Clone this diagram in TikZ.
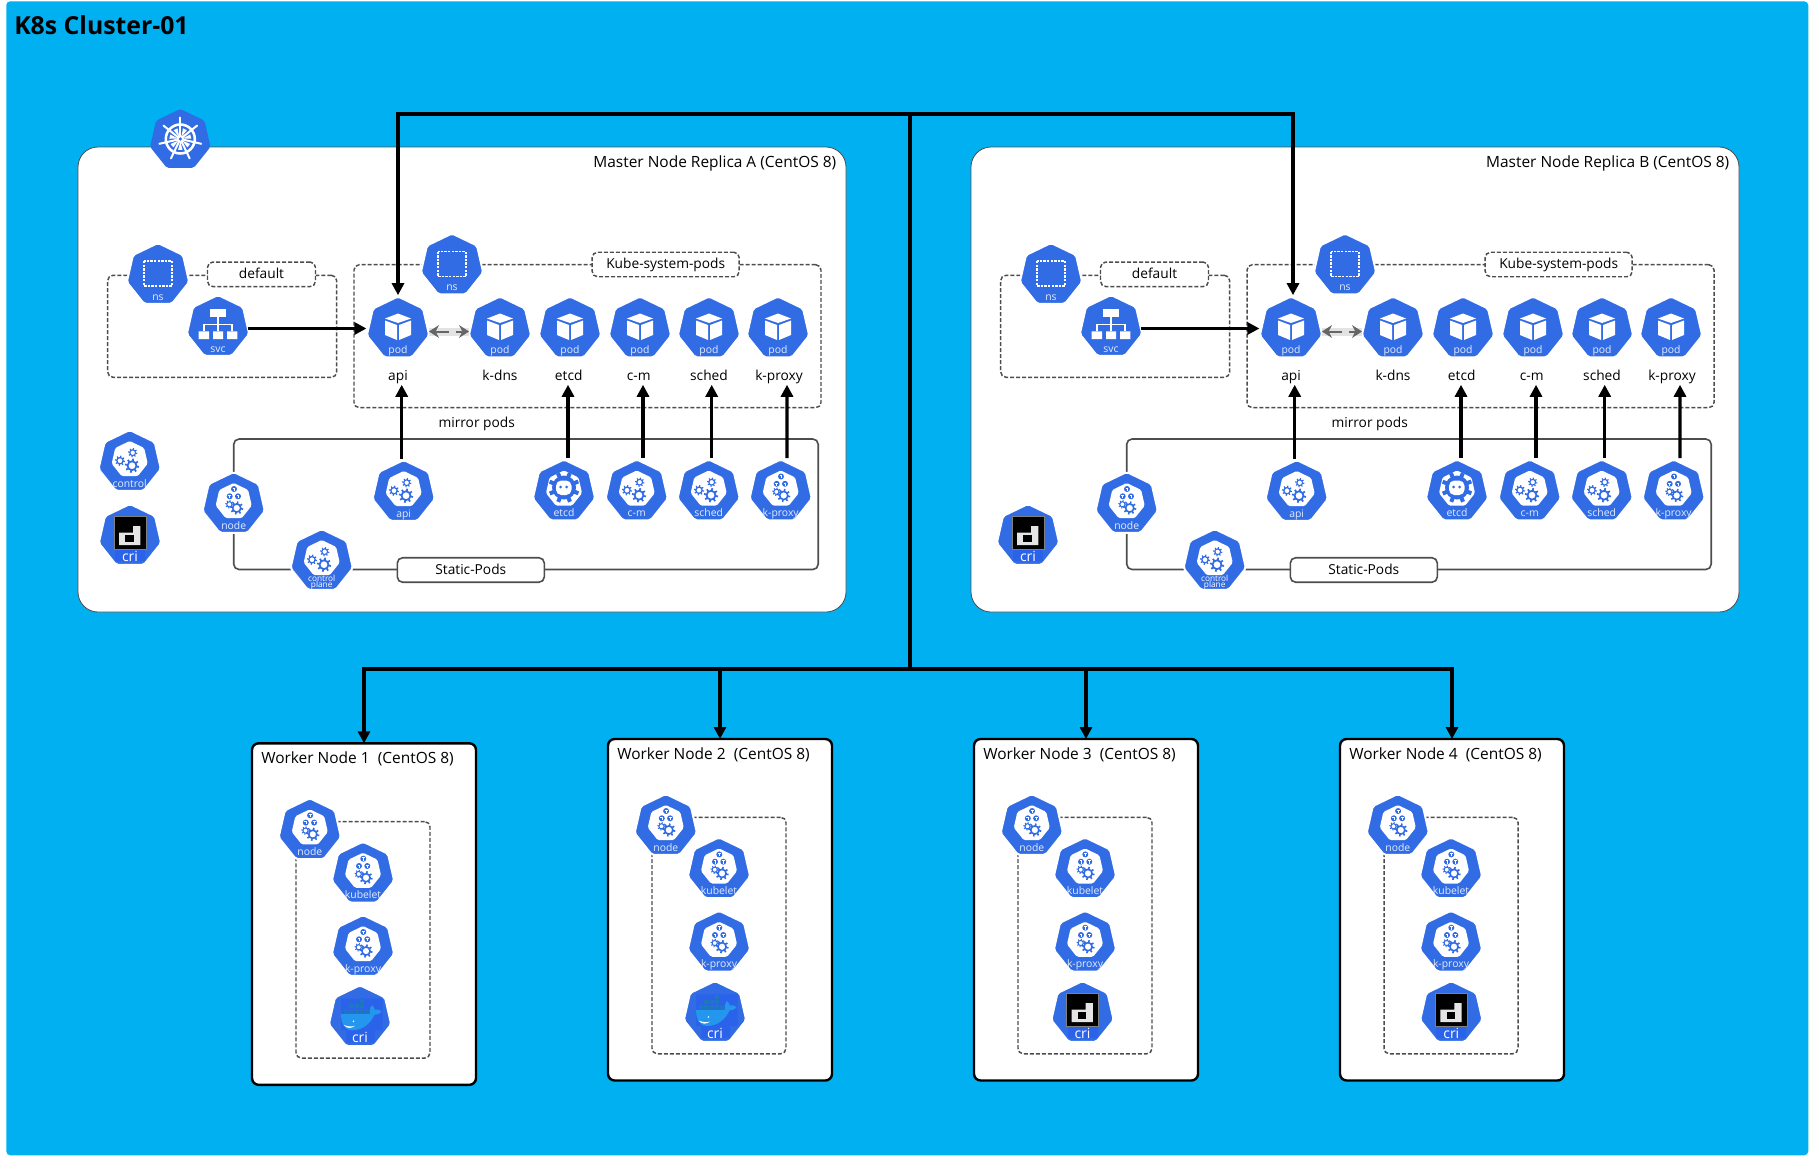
\documentclass[tikz,border=0pt]{standalone}
\usepackage{fontspec}
\setmainfont{Open Sans}
\usetikzlibrary{shapes.geometric, arrows.meta, positioning}

\definecolor{skyback}{HTML}{00B0F0}
\definecolor{kblue}{HTML}{326CE5}
\definecolor{kdeep}{HTML}{2B62EA}
\definecolor{kpale}{HTML}{E4ECFC}
\definecolor{whaleblue}{HTML}{2496ED}
\definecolor{boxline}{HTML}{4D4D4D}

\newcommand{\px}{0.75pt}

\tikzset{
    kube/.style={regular polygon, regular polygon sides=7, fill=kblue, draw=white, line width=1.5pt,
        minimum size=48pt, inner sep=0pt, outer sep=0pt, rounded corners=1.5pt},
    kubetext/.style={text=kpale, inner sep=0pt, align=center, font=\fontsize{7.8}{8}\selectfont},
    planetext/.style={kubetext, text=white, font=\fontsize{6.2}{4.8}\selectfont},
    kubecap/.style={inner sep=0pt, minimum height=15*\px, text height=8pt, text depth=2.5pt, font=\fontsize{10.3}{12}\selectfont},
    titletext/.style={inner sep=0pt, font=\fontsize{11.6}{13}\selectfont},
    hostbox/.style={draw=boxline, line width=0.6pt, fill=white, rounded corners=15pt, anchor=north west, outer sep=0pt},
    workerbox/.style={draw=black, line width=1.8pt, fill=white, rounded corners=5pt, anchor=north west, outer sep=0pt},
    dashbox/.style={draw=boxline, line width=1.1pt, dash pattern=on 3pt off 1.5pt, rounded corners=4pt, anchor=north west, outer sep=0pt},
    dashtag/.style={dashbox, fill=white, anchor=center, inner sep=0pt, text height=8.5pt, text depth=2pt, font=\fontsize{10.3}{12}\selectfont},
    staticbox/.style={draw=boxline, line width=1.2pt, rounded corners=4pt, anchor=north west, outer sep=0pt},
    statictag/.style={staticbox, fill=white, anchor=center, inner sep=0pt, text height=8.5pt, text depth=2pt, font=\fontsize{10.3}{12}\selectfont},
    flow/.style={draw=black, line width=2.3pt, -{Triangle[length=9pt,width=9pt]}},
    bus/.style={draw=black, line width=2.5pt},
    busarrow/.style={bus, -{Triangle[length=9pt,width=9pt]}},
    peer/.style={draw=black!60, line width=1.5pt, dash pattern=on 10.5pt off 5pt,
        {Stealth[length=7.5pt,width=9.5pt]}-{Stealth[length=7.5pt,width=9.5pt]},
        preaction={draw=gray!22, solid, line width=6pt, arrows=-}}
}

% drawing of the glyphs, relative to the middle of a heptagon, y goes down
\newcommand{\kgear}[3]{%
    \draw[kblue, line width=#3*0.2pt, shift={(#1,#2)}] (0,0) circle (#3*0.68);
    \foreach \toothangle in {0,45,...,315}
        \draw[kblue, line width=#3*0.2pt, shift={(#1,#2)}] (\toothangle+10:#3*0.7) -- (\toothangle+10:#3*1.1);
}
\newcommand{\kinner}{%
    \fill[white, rounded corners=1.2pt, shift={(0,-2.5)}] (-90:18.5) -- (-38.6:18.5) -- (12.9:18.5) -- (64.3:18.5)
        -- (115.7:18.5) -- (167.1:18.5) -- (218.6:18.5) -- cycle;
}
\newcommand{\kcube}[2]{%
    \fill[kblue, shift={(#1,#2)}] (0,0) circle (3);
    \draw[white, line width=0.4pt, shift={(#1,#2)}] (-1.4,-1) -- (1.4,-1) (0,-1) -- (0,1.8);
}
\newcommand{\glyphpod}{%
    \fill[white] (0,-15) -- (13,-10) -- (0,-5.5) -- (-13,-10) -- cycle;
    \fill[white] (-13,-8) -- (-1,-3.5) -- (-1,11.5) -- (-13,6.5) -- cycle;
    \fill[white] (13,-8) -- (1,-3.5) -- (1,11.5) -- (13,6.5) -- cycle;
}
\newcommand{\glyphns}{%
    \draw[white, line width=0.9pt, dash pattern=on 1.8pt off 0.9pt] (-14,-14) rectangle (14,11);
}
\newcommand{\glyphsvc}{%
    \fill[white] (-8.3,-17.7) rectangle (8.3,-9.7);
    \fill[white] (-19.3,4.3) rectangle (-9,12) (-5,4.3) rectangle (5,12) (9,4.3) rectangle (19.3,12);
    \draw[white, line width=1pt] (0,-9.7) -- (0,4.3) (-14,4.3) -- (-14,-2.7) -- (14,-2.7) -- (14,4.3);
}
\newcommand{\glyphgear}{%
    \kinner
    \kgear{2.3}{3.7}{6.5}
    \kgear{-9.7}{-1.3}{4.6}
    \kgear{3}{-9.3}{4.2}
}
\newcommand{\glyphnode}{%
    \kinner
    \kgear{3}{4}{6}
    \kgear{-4.3}{0.3}{3.8}
    \kcube{0.3}{-15}
    \kcube{-4}{-7.7}
    \kcube{4.3}{-7.7}
}
\newcommand{\glypheted}{%
    \kinner
    \fill[kblue] (0,-4) circle (12);
    \foreach \toothangle in {0,45,...,315}
        \draw[kblue, line width=3pt, shift={(0,-4)}] (\toothangle+22:11) -- (\toothangle+22:15.5);
    \fill[white, rounded corners=4pt] (-8,-11) rectangle (7.5,3.5);
    \fill[kblue] (-3.5,-4.5) circle (1.5) (2.5,-4.5) circle (1.5);
}
\newcommand{\glyphcri}{%
    \fill[kdeep] (-15,13) rectangle (15,25);
    \fill[black] (-16,-19.5) rectangle (16,13);
    \draw[gray, line width=0.5pt] (-16,-19.5) rectangle (16,13);
    \fill[black!10] (-11,-3.3) -- (3,-3.3) -- (3,-10) -- (10.3,-10) -- (10.3,9) -- (-11,9) -- cycle;
    \fill[black] (-4.7,-1) rectangle (3.7,5.7);
}
\newcommand{\glyphwhale}{%
    \fill[kdeep] (-19,-18.7) rectangle (22.5,13) (-14,13) rectangle (15,25);
    \foreach \boxx/\boxy in {-16.7/-8.7,-11.5/-8.7,-6.3/-8.7,-1.1/-8.7,4.1/-8.7,-11.5/-13.9,-6.3/-13.9,-1.1/-13.9,-1.1/-19.1}
        \draw[fill=whaleblue!80!black, draw=kdeep, line width=0.2pt] (\boxx,\boxy) rectangle +(5.2,5.2);
    \fill[whaleblue] (-19,-3.2) -- (10,-3.2) .. controls (9,-8) and (11,-11) .. (12,-12)
        .. controls (14,-10) and (15,-8) .. (15,-7.5) .. controls (17,-8) and (20,-8) .. (21.5,-6)
        .. controls (19,-3) and (17,-2.5) .. (14.5,-2.5) .. controls (10,7) and (2,13) .. (-8,13)
        .. controls (-16,13) and (-19,5) .. (-19,-3.2) -- cycle;
    \fill[white] (-6.5,4) circle (0.9);
    \fill[white] (-16.5,7.5) .. controls (-12,9.5) and (-8,9.5) .. (-5,8.5) .. controls (-8,11) and (-13,12) .. (-16.5,7.5) -- cycle;
}
\newcommand{\glyphwheel}{%
    \begin{scope}[shift={(0,-1)}]
        \draw[white, line width=1.9pt] (0,0) circle (14.5);
        \foreach \spokeangle in {-90,-38.6,12.9,64.3,115.7,167.1,218.6} {
            \draw[white, line width=1.5pt, line cap=round] (\spokeangle:4) -- (\spokeangle:21.5);
            \fill[white] (\spokeangle+25.7:2.5) -- (\spokeangle+14:11) -- (\spokeangle+37:11) -- cycle;
        }
        \fill[white] (0,0) circle (4);
        \fill[kblue] (0,0) circle (1.8);
    \end{scope}
}

% name, x, y, text, glyph
\newcommand{\kubenode}[5]{%
    \node (#1) [kube] at (#2,#3) {};
    \begin{scope}[shift={(#1)}] #5 \end{scope}
    \node (#1-txt) [kubetext, anchor=base] at ([yshift=-25*\px]#1) {#4};
}
\newcommand{\crilabel}{\fontsize{10.5}{10.5}\selectfont\color{white} cri}

\begin{document}
\begin{tikzpicture}[x=\px, y=-\px]

        \useasboundingbox (0,0) rectangle (1809,1156);
        \node (cluster) [fill=skyback, rounded corners=3pt, anchor=north west, inner sep=0pt,
            minimum width=1802*\px, minimum height=1154*\px] at (6,1) {};
        \node (clustername) [anchor=west, inner sep=0pt, font=\fontsize{18.6}{20}\selectfont\bfseries] at (14,25) {K8s Cluster-01};

        \coordinate (topbus) at (910,114);
        \coordinate (lowbus) at (910,669);

        % the two master nodes
        \foreach \master/\dx/\rname/\crix in {a/0/A/130,b/893/B/135} {
            \begin{scope}[xshift=\dx*\px]
                \node (\master-host) [hostbox, minimum width=768*\px, minimum height=465*\px] at (78,147) {};
                \node (\master-name) [titletext, anchor=east] at (836.5,163.5) {Master Node Replica \rname{} (CentOS 8)};

                \node (\master-defbox) [dashbox, minimum width=229*\px, minimum height=102*\px] at (107.7,275.3) {};
                \node (\master-deftag) [dashtag, minimum width=108*\px, minimum height=24.5*\px] at (261.5,274.3) {default};

                \node (\master-sysbox) [dashbox, minimum width=467*\px, minimum height=143*\px] at (354,264.7) {};
                \node (\master-systag) [dashtag, minimum width=147*\px, minimum height=24.5*\px] at (665.7,264.5) {Kube-system-pods};

                \node (\master-mirror) [kubecap] at (476.7,424) {mirror pods};
                \node (\master-statbox) [staticbox, minimum width=584.5*\px, minimum height=130.5*\px] at (233.7,439) {};
                \node (\master-stattag) [statictag, minimum width=147*\px, minimum height=24.5*\px] at (470.8,570) {Static-Pods};

                \kubenode{\master-defns}{158}{275}{ns}{\glyphns}
                \kubenode{\master-svc}{218}{327}{svc}{\glyphsvc}
                \kubenode{\master-sysns}{452}{265.5}{ns}{\glyphns}

                \kubenode{\master-papi}{398}{328.5}{pod}{\glyphpod}
                \kubenode{\master-pdns}{500}{328.5}{pod}{\glyphpod}
                \kubenode{\master-petcd}{570}{328.5}{pod}{\glyphpod}
                \kubenode{\master-pcm}{640}{328.5}{pod}{\glyphpod}
                \kubenode{\master-psched}{709}{328.5}{pod}{\glyphpod}
                \kubenode{\master-pproxy}{778}{328.5}{pod}{\glyphpod}

                \node (\master-tapi) [kubecap] at (398,377) {api};
                \node (\master-tdns) [kubecap] at (500,377) {k-dns};
                \node (\master-tetcd) [kubecap] at (568.7,377) {etcd};
                \node (\master-tcm) [kubecap] at (638.7,377) {c-m};
                \node (\master-tsched) [kubecap] at (709,377) {sched};
                \node (\master-tproxy) [kubecap] at (779,377) {k-proxy};

                \kubenode{\master-cri}{\crix}{536}{\crilabel}{\glyphcri}
                \kubenode{\master-node}{233.7}{504}{node}{\glyphnode}
                \kubenode{\master-plane}{321.7}{561}{}{\glyphgear}
                \node (\master-planetxt) [planetext] at ([yshift=-21.5*\px]\master-plane) {control\\plane};
                \kubenode{\master-sapi}{403.7}{492}{api}{\glyphgear}
                \kubenode{\master-setcd}{564}{491.5}{etcd}{\glypheted}
                \kubenode{\master-scm}{636.7}{491.5}{c-m}{\glyphgear}
                \kubenode{\master-ssched}{708.7}{491.5}{sched}{\glyphgear}
                \kubenode{\master-sproxy}{780.7}{491.5}{k-proxy}{\glyphnode}

                \draw[flow, shorten >=1.5pt] (\master-svc.east |- \master-papi.west) -- (\master-papi.west);
                \draw[peer, shorten >=1pt, shorten <=1pt] ([yshift=-3*\px]\master-papi.east) -- ([yshift=-3*\px]\master-pdns.west);

                \foreach \pname/\from/\to in {api/-2/3.7,etcd/4/-0.7,cm/6.3/4.3,sched/3/2.7,proxy/6.3/8}
                    \draw[flow, shorten <=1pt] ([xshift=\from*\px]\master-s\pname.north) -- ([xshift=\to*\px]\master-t\pname.south);
            \end{scope}
        }

        \kubenode{a-control}{129.7}{462}{control}{\glyphgear}
        \node (logo) [kube, draw=none, minimum size=46.5pt] at (180.3,140) {};
        \begin{scope}[shift={(logo)}] \glyphwheel \end{scope}

        % the worker nodes
        \foreach \wid/\wx/\wy/\crix/\criglyph in {1/252/743.3/108/\glyphwhale,2/608/739/107/\glyphwhale,3/974/739/108.5/\glyphcri,4/1340/739/111.3/\glyphcri} {
            \begin{scope}[shift={(\wx,\wy)}]
                \node (w\wid) [workerbox, minimum width=224*\px, minimum height=341.5*\px] at (0,0) {};
                \node (w\wid-name) [titletext, anchor=west] at (9,15.5) {Worker Node \wid~~(CentOS 8)};
                \node (w\wid-box) [dashbox, minimum width=134*\px, minimum height=236.5*\px] at (44,78.3) {};
                \kubenode{w\wid-node}{57.8}{87}{node}{\glyphnode}
                \kubenode{w\wid-let}{111}{130.4}{kubelet}{\glyphnode}
                \kubenode{w\wid-proxy}{111}{203.7}{k-proxy}{\glyphnode}
                \kubenode{w\wid-cri}{\crix}{274}{\crilabel}{\criglyph}
            \end{scope}
        }

        % control plane to workers
        \draw[bus, line width=2.9pt] (topbus) -- (lowbus);
        \draw[busarrow, shorten >=1pt] (topbus) -| (a-papi.north);
        \draw[busarrow, shorten >=1pt] (topbus) -| ([xshift=2*\px]b-papi.north);
        \foreach \wid in {1,2,3,4}
            \draw[busarrow] (lowbus) -| (w\wid.north);

    \end{tikzpicture}
\end{document}
